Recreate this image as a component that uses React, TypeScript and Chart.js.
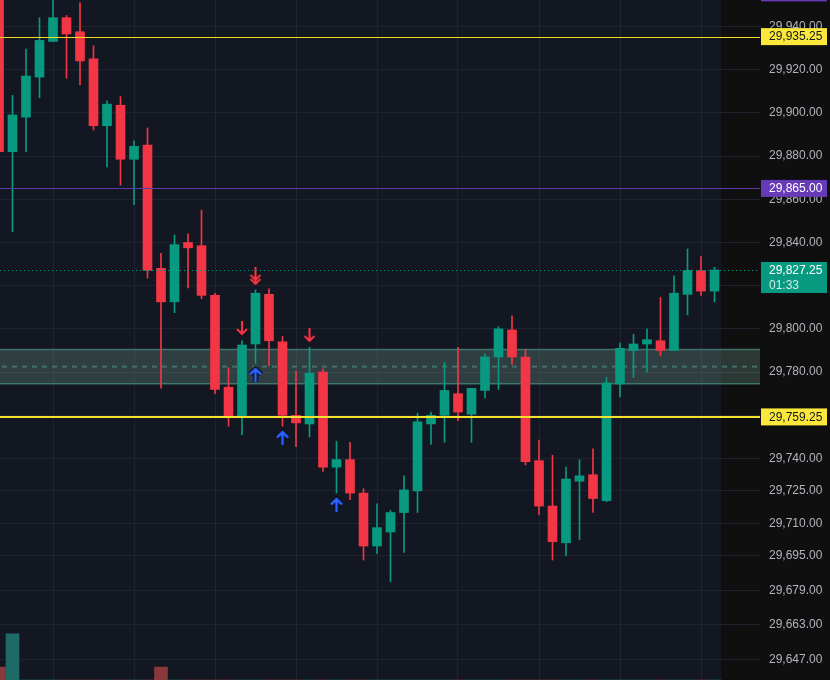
import { useEffect, useRef } from "react";
import { Chart, registerables } from "chart.js";

Chart.register(...registerables);

// ---- data ----
const opens = [
  29968, 29882, 29898, 29916.5, 29933, 29944, 29937.5, 29925, 29894, 29903.5,
  29878.5, 29885, 29828, 29812.5, 29840, 29838.5, 29815.5, 29773, 29759, 29793,
  29816, 29794, 29760, 29756, 29780, 29736, 29739.5, 29724, 29699.5, 29706,
  29715, 29725, 29756, 29760, 29770, 29760.5, 29771.5, 29787, 29799.5, 29787,
  29739, 29718, 29701, 29729.5, 29732.5, 29720.5, 29774.5, 29790, 29793, 29794.5,
  29790, 29816, 29827, 29817.5,
];
const highs = [
  29975, 29908, 29929.5, 29944, 29956, 29945, 29951, 29931, 29905.5, 29907.5,
  29887, 29893, 29835, 29843.5, 29844, 29855, 29816.5, 29782, 29794.5, 29818,
  29818.5, 29796.5, 29780.5, 29791.5, 29781.5, 29748, 29747.5, 29726, 29719, 29716,
  29732, 29761, 29761.5, 29784.5, 29791.5, 29772.5, 29788.5, 29801, 29806, 29790.5,
  29748.5, 29741.5, 29736, 29739.5, 29744.5, 29777.5, 29793.5, 29797.5, 29800, 29814.5,
  29824.5, 29837, 29833.5, 29828.5,
];
const lows = [
  29876, 29845, 29882, 29907, 29933, 29916, 29913, 29892, 29875, 29866.5,
  29857.5, 29823.5, 29772.5, 29807.5, 29819, 29814, 29770, 29755, 29751, 29784,
  29783, 29755, 29745.5, 29750, 29734, 29724, 29721, 29693, 29696, 29683,
  29696.5, 29715, 29746.5, 29747.5, 29757.5, 29747.5, 29768, 29772, 29783.5, 29737,
  29714, 29693, 29695, 29702.5, 29715, 29720, 29768.5, 29777.5, 29780, 29787.5,
  29790, 29806.5, 29815.5, 29812.5,
];
const closes = [
  29882, 29899, 29917, 29933.5, 29944, 29936.5, 29924, 29894, 29904, 29878.5,
  29884.5, 29827, 29812.5, 29839, 29837.5, 29815.5, 29772, 29759, 29792.5, 29816.5,
  29794.5, 29760, 29756.5, 29779.5, 29736, 29739.5, 29724, 29699.5, 29708, 29715,
  29725.5, 29757, 29760, 29771.5, 29761.5, 29772.5, 29787, 29800, 29787, 29738.5,
  29718, 29701.5, 29730.5, 29732, 29721.5, 29775, 29791, 29793, 29795, 29790,
  29816.5, 29827, 29817.5, 29827.25,
];
// volume (only the bars that reach into the visible window)
const volumes = [
  19, 68, 0, 0, 0, 0, 0, 0, 0, 0,
  0, 0, 19, 0, 0, 0, 0, 0, 0, 0,
  0, 0, 0, 0, 0, 0, 0, 0, 0, 0,
  0, 0, 0, 0, 0, 0, 0, 0, 0, 0,
  0, 0, 0, 0, 0, 0, 0, 0, 0, 0,
  0, 0, 0, 0,
];
const yTicks = [
  29940, 29920, 29900, 29880, 29860, 29840, 29820, 29800, 29780, 29760,
  29740, 29725, 29710, 29695, 29679, 29663, 29647,
];
const xGridIdx = [1, 7, 13, 19, 25, 31, 37, 43, 49, 55];

const levelUpperYellow = 29935.25;
const levelPurple = 29865.0;
const levelLowerYellow = 29759.25;
const lastPrice = 29827.25;
const countdown = "01:33";
const levelOffTop = 29955.5;
const zoneTop = 29790.5;
const zoneBottom = 29774.6;

const redDoubleArrows = [{ x: 19, y: 29824.5 }];
const redArrows = [
  { x: 18, y: 29800.4 },
  { x: 23, y: 29797.2 },
];
const blueArrows = [
  { x: 19, y: 29778.7 },
  { x: 21, y: 29749.5 },
  { x: 25, y: 29718.5 },
];

const UP = "#089981";
const DOWN = "#f23645";
const GRID = "#1f232e";
const FONT = "'Liberation Sans', Arial, sans-serif";

const fmt = (v: number) =>
  v.toLocaleString("en-US", { minimumFractionDigits: 2, maximumFractionDigits: 2 });

function makeArrow(kind: "down" | "double" | "up"): HTMLCanvasElement {
  const c = document.createElement("canvas");
  const ctx = c.getContext("2d")!;
  ctx.lineJoin = "miter";
  if (kind === "up") {
    c.width = 16;
    c.height = 18;
    ctx.lineJoin = "miter";
    const path = () => {
      ctx.beginPath();
      ctx.moveTo(8, 16);
      ctx.lineTo(8, 3);
      ctx.moveTo(2.5, 8.5);
      ctx.lineTo(8, 3);
      ctx.lineTo(13.5, 8.5);
    };
    ctx.lineCap = "butt";
    ctx.strokeStyle = "#0a0c12";
    ctx.lineWidth = 5;
    path();
    ctx.stroke();
    ctx.strokeStyle = "#2962ff";
    ctx.lineWidth = 2.5;
    path();
    ctx.stroke();
  } else {
    const dbl = kind === "double";
    c.width = 14;
    c.height = dbl ? 20 : 16;
    const end = dbl ? 18 : 14;
    const path = () => {
      ctx.beginPath();
      ctx.moveTo(7, 1);
      ctx.lineTo(7, end);
      ctx.moveTo(2, end - 5);
      ctx.lineTo(7, end);
      ctx.lineTo(12, end - 5);
      if (dbl) {
        ctx.moveTo(2, end - 9);
        ctx.lineTo(7, end - 4);
        ctx.lineTo(12, end - 9);
      }
    };
    ctx.strokeStyle = "rgba(10,12,18,0.8)";
    ctx.lineWidth = 3.5;
    path();
    ctx.stroke();
    ctx.strokeStyle = DOWN;
    ctx.lineWidth = 2.2;
    path();
    ctx.stroke();
  }
  return c;
}

export default function App() {
  const ref = useRef<HTMLCanvasElement | null>(null);

  useEffect(() => {
    document.body.style.margin = "0";
    document.body.style.background = "#0f0f0f";
    const canvas = ref.current!;
    const colors = opens.map((o, i) => (closes[i] >= o ? UP : DOWN));
    const volColors = opens.map((o, i) => (closes[i] >= o ? "#1d6a66" : "#89383c"));

    const bgPlugin = {
      id: "bg",
      beforeDraw(chart: any) {
        const { ctx, chartArea, scales } = chart;
        ctx.save();
        ctx.fillStyle = "#0f0f0f";
        ctx.fillRect(0, 0, chart.width, chart.height);
        const xr = scales.x.getPixelForValue(opens.length - 0.5);
        ctx.fillStyle = "#131722";
        ctx.fillRect(chartArea.left, chartArea.top, xr - chartArea.left, chartArea.bottom - chartArea.top);
        ctx.restore();
      },
      beforeDatasetsDraw(chart: any) {
        const { ctx, chartArea, scales } = chart;
        const y = scales.y;
        const t = y.getPixelForValue(zoneTop);
        const b = y.getPixelForValue(zoneBottom);
        ctx.save();
        ctx.fillStyle = "rgba(125,170,150,0.27)";
        ctx.fillRect(chartArea.left, t, chartArea.right - chartArea.left, b - t);
        ctx.strokeStyle = "rgba(70,140,125,0.75)";
        ctx.lineWidth = 1.5;
        ctx.beginPath();
        ctx.moveTo(chartArea.left, t);
        ctx.lineTo(chartArea.right, t);
        ctx.moveTo(chartArea.left, b);
        ctx.lineTo(chartArea.right, b);
        ctx.stroke();
        const m = y.getPixelForValue((zoneTop + zoneBottom) / 2);
        ctx.strokeStyle = "rgba(70,120,110,0.9)";
        ctx.lineWidth = 2;
        ctx.setLineDash([5, 5]);
        ctx.beginPath();
        ctx.moveTo(chartArea.left + 2, m);
        ctx.lineTo(chartArea.right, m);
        ctx.stroke();
        ctx.restore();
      },
      afterDatasetsDraw(chart: any) {
        const { ctx, chartArea, scales } = chart;
        const y = scales.y;
        const hline = (v: number, color: string, w: number, dash: number[] = []) => {
          const p = Math.round(y.getPixelForValue(v)) + (w % 2 ? 0.5 : 0);
          ctx.save();
          ctx.strokeStyle = color;
          ctx.lineWidth = w;
          ctx.setLineDash(dash);
          ctx.beginPath();
          ctx.moveTo(chartArea.left, p);
          ctx.lineTo(chartArea.right, p);
          ctx.stroke();
          ctx.restore();
        };
        hline(lastPrice, UP, 1, [1, 3]);
        hline(levelUpperYellow, "#f2dd22", 1);
        hline(levelPurple, "#5c3aa6", 1);
        hline(levelLowerYellow, "#f5e22e", 2);
      },
      afterDraw(chart: any) {
        const { ctx, chartArea, scales } = chart;
        const y = scales.y;
        const left = chartArea.right + 1;
        const w = 66;
        const box = (v: number, bg: string, fg: string, text: string, sub?: string) => {
          const p = y.getPixelForValue(v);
          ctx.save();
          ctx.fillStyle = bg;
          if (sub) ctx.fillRect(left, p - 8, w, 31);
          else ctx.fillRect(left, p - 8.5, w, 17);
          ctx.fillStyle = fg;
          ctx.font = `12px ${FONT}`;
          ctx.textAlign = "left";
          ctx.textBaseline = "middle";
          ctx.fillText(text, left + 8, p + 0.5);
          if (sub) {
            ctx.fillStyle = "rgba(255,255,255,0.82)";
            ctx.fillText(sub, left + 8, p + 15.5);
          }
          ctx.restore();
        };
        box(levelOffTop, "#673ab7", "#ffffff", fmt(levelOffTop));
        box(levelUpperYellow, "#fbe83b", "#131722", fmt(levelUpperYellow));
        box(levelPurple, "#673ab7", "#ffffff", fmt(levelPurple));
        box(lastPrice, UP, "#ffffff", fmt(lastPrice), countdown);
        box(levelLowerYellow, "#fbe83b", "#131722", fmt(levelLowerYellow));
      },
    };

    const chart = new Chart(canvas, {
      type: "bar",
      data: {
        datasets: [
          {
            type: "scatter",
            data: redDoubleArrows,
            pointStyle: makeArrow("double") as any,
            pointRadius: 5,
            order: 0,
          } as any,
          {
            type: "scatter",
            data: redArrows,
            pointStyle: makeArrow("down") as any,
            pointRadius: 5,
            order: 0,
          } as any,
          {
            type: "scatter",
            data: blueArrows,
            pointStyle: makeArrow("up") as any,
            pointRadius: 5,
            order: 0,
          } as any,
          {
            data: opens.map((o, i) => ({ x: i, y: [o, closes[i]] })) as any,
            backgroundColor: colors,
            barThickness: 9,
            minBarLength: 1,
            grouped: false,
            borderWidth: 0,
            order: 1,
          },
          {
            data: opens.map((_, i) => ({ x: i, y: [lows[i], highs[i]] })) as any,
            backgroundColor: colors,
            barThickness: 1,
            grouped: false,
            borderWidth: 0,
            order: 2,
          },
          {
            data: volumes.map((v, i) => ({ x: i, y: v })) as any,
            backgroundColor: volColors,
            barThickness: 13,
            grouped: false,
            borderWidth: 0,
            yAxisID: "yv",
            order: 3,
          },
        ],
      },
      options: {
        responsive: false,
        animation: false,
        devicePixelRatio: 1,
        layout: { padding: 0, autoPadding: false },
        plugins: { legend: { display: false }, tooltip: { enabled: false } },
        scales: {
          x: {
            type: "linear",
            min: 1 / 13.5,
            max: 1 / 13.5 + 760 / 13.5,
            offset: false,
            ticks: { display: false },
            grid: { color: GRID, drawTicks: false },
            border: { display: false },
            afterBuildTicks: (s: any) => {
              s.ticks = xGridIdx.map((v) => ({ value: v }));
            },
            afterFit: (s: any) => {
              s.height = 0;
              s.paddingLeft = 0;
              s.paddingRight = 0;
            },
          },
          y: {
            type: "linear",
            position: "right",
            min: 29637.5,
            max: 29952.2,
            ticks: {
              color: "#b2b5be",
              font: { family: FONT, size: 12 },
              padding: 9,
              autoSkip: false,
              callback: (v: any) => fmt(Number(v)),
            },
            grid: { color: GRID, drawTicks: false },
            border: { display: false },
            afterBuildTicks: (s: any) => {
              s.ticks = yTicks.map((v) => ({ value: v }));
            },
            afterFit: (s: any) => {
              s.width = 70;
              s.paddingTop = 0;
              s.paddingBottom = 0;
            },
          },
          yv: {
            type: "linear",
            display: false,
            min: 0,
            max: 1000,
          },
        },
      } as any,
      plugins: [bgPlugin],
    });
    return () => chart.destroy();
  }, []);

  return <canvas ref={ref} width={830} height={680} style={{ display: "block" }} />;
}
